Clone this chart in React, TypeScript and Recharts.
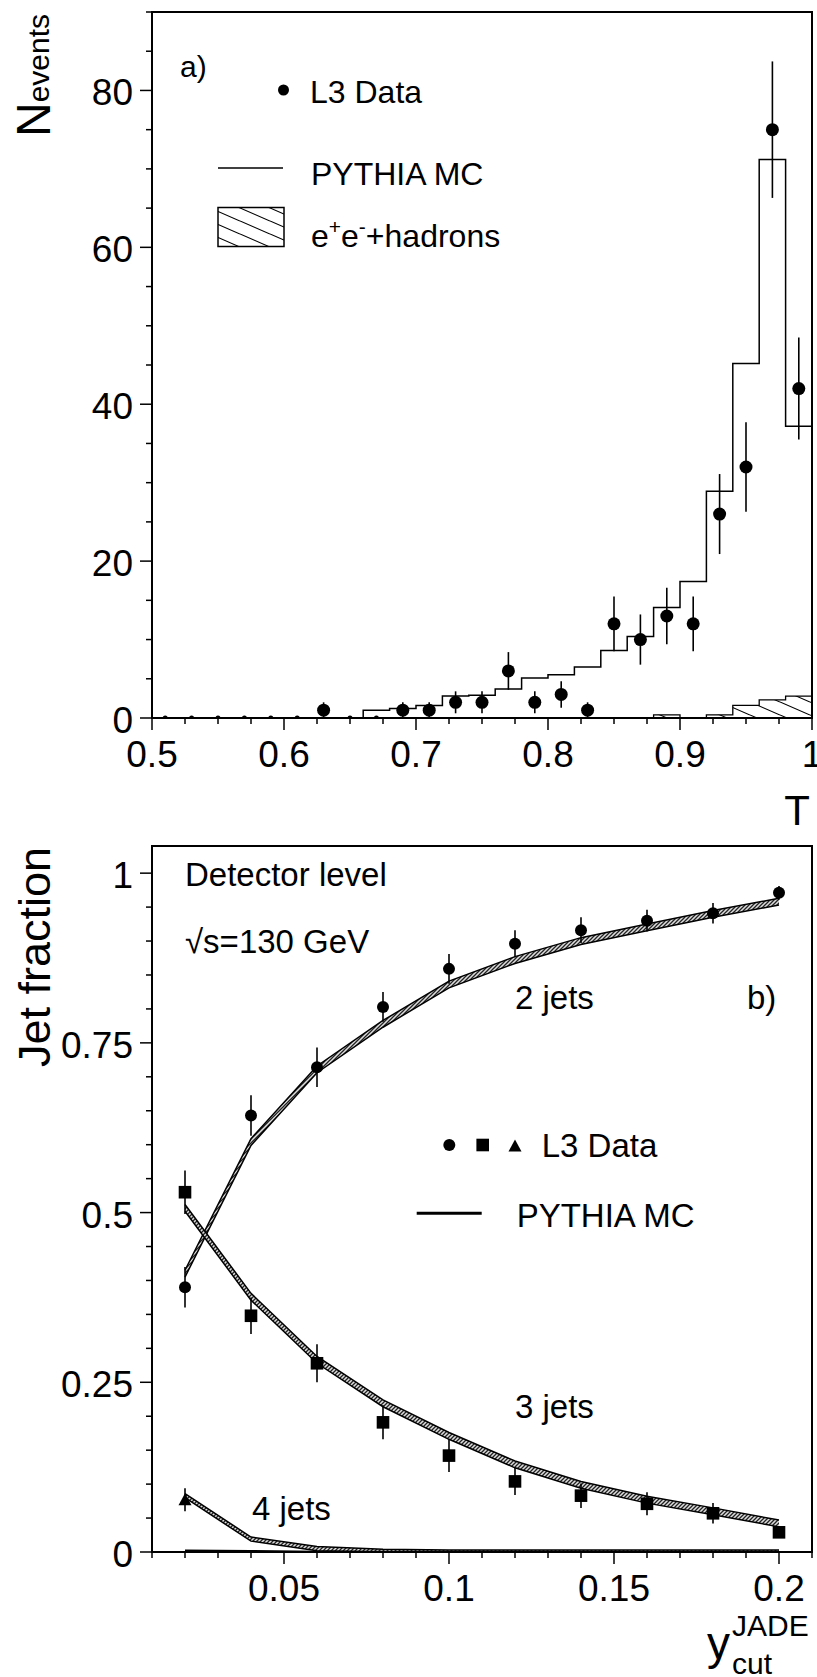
import React from "react";
import {
  ComposedChart,
  Line,
  Area,
  Scatter,
  XAxis,
  YAxis,
  ErrorBar,
  ReferenceArea,
} from "recharts";

const FONT = "'Liberation Sans', Arial, Helvetica, sans-serif";

// ---- panel a): thrust distribution ----
const tEdges = [
  0.5, 0.52, 0.54, 0.56, 0.58, 0.6, 0.62, 0.64, 0.66, 0.68, 0.7, 0.72, 0.74,
  0.76, 0.78, 0.8, 0.82, 0.84, 0.86, 0.88, 0.9, 0.92, 0.94, 0.96, 0.98, 1.0,
];
const pythiaT = [
  0, 0, 0, 0, 0, 0, 0, 0, 1.0, 1.2, 1.6, 2.8, 2.9, 3.7, 5.1, 5.5, 6.5, 8.6,
  10.4, 14.1, 17.4, 28.9, 45.2, 71.2, 37.2,
];
const eeHadronsT = [
  0, 0, 0, 0, 0, 0, 0, 0, 0, 0, 0, 0, 0, 0, 0, 0, 0, 0, 0, 0.4, 0, 0.4, 1.6,
  2.3, 2.8,
];
const tCentres = [
  0.51, 0.53, 0.55, 0.57, 0.59, 0.61, 0.63, 0.65, 0.67, 0.69, 0.71, 0.73, 0.75,
  0.77, 0.79, 0.81, 0.83, 0.85, 0.87, 0.89, 0.91, 0.93, 0.95, 0.97, 0.99,
];
const l3T = [
  0, 0, 0, 0, 0, 0, 1, 0, 0, 1, 1, 2, 2, 6, 2, 3, 1, 12, 10, 13, 12, 26, 32, 75,
  42,
];
const l3TErr = [
  0, 0, 0, 0, 0, 0, 1, 0, 0, 1, 1, 1.4, 1.4, 2.4, 1.4, 1.7, 1, 3.5, 3.2, 3.6,
  3.5, 5.1, 5.7, 8.7, 6.5,
];
const tTicks = [
  0.5, 0.525, 0.55, 0.575, 0.6, 0.625, 0.65, 0.675, 0.7, 0.725, 0.75, 0.775,
  0.8, 0.825, 0.85, 0.875, 0.9, 0.925, 0.95, 0.975, 1,
];
const tLabels = [0.5, 0.6, 0.7, 0.8, 0.9, 1];
const nTicks = [0, 5, 10, 15, 20, 25, 30, 35, 40, 45, 50, 55, 60, 65, 70, 75, 80, 85, 90];
const nLabels = [0, 20, 40, 60, 80];

// ---- panel b): jet fractions vs y_cut ----
const ycut = [0.02, 0.04, 0.06, 0.08, 0.1, 0.12, 0.14, 0.16, 0.18, 0.2];
const l3TwoJet = [0.39, 0.643, 0.714, 0.803, 0.859, 0.896, 0.916, 0.93, 0.941, 0.971];
const l3TwoJetErr = [0.03, 0.03, 0.029, 0.022, 0.022, 0.02, 0.019, 0.016, 0.015, 0.01];
const l3ThreeJet = [0.53, 0.348, 0.278, 0.191, 0.142, 0.104, 0.083, 0.071, 0.057, 0.029];
const l3ThreeJetErr = [0.032, 0.027, 0.028, 0.025, 0.024, 0.02, 0.018, 0.017, 0.015, 0.007];
const l3FourJet = [0.077];
const l3FourJetErr = [0.017];
const pythiaTwoJet = [0.41, 0.604, 0.711, 0.778, 0.836, 0.872, 0.9, 0.92, 0.94, 0.958];
const pythiaThreeJet = [0.507, 0.376, 0.283, 0.219, 0.171, 0.129, 0.099, 0.077, 0.06, 0.042];
const pythiaFourJet = [0.083, 0.019, 0.005, 0.001, 0, 0, 0, 0, 0, 0];
const pythiaFiveJet = [0.002, 0.001, 0, 0, 0, 0, 0, 0, 0, 0];
const mcBandHalf = [0.005, 0.005, 0.003];
const ycutTicks = [
  0.01, 0.02, 0.03, 0.04, 0.05, 0.06, 0.07, 0.08, 0.09, 0.1, 0.11, 0.12, 0.13,
  0.14, 0.15, 0.16, 0.17, 0.18, 0.19, 0.2, 0.21,
];
const ycutLabels = [0.05, 0.1, 0.15, 0.2];
const fracTicks = [
  0, 0.05, 0.1, 0.15, 0.2, 0.25, 0.3, 0.35, 0.4, 0.45, 0.5, 0.55, 0.6, 0.65,
  0.7, 0.75, 0.8, 0.85, 0.9, 0.95, 1,
];
const fracLabels = [0, 0.25, 0.5, 0.75, 1];

const histRows = tEdges.map((x, i) => ({
  x,
  mc: pythiaT[Math.min(i, pythiaT.length - 1)],
  bkg: eeHadronsT[Math.min(i, eeHadronsT.length - 1)],
}));
const thrustPoints = tCentres.map((x, i) => ({ x, n: l3T[i], err: l3TErr[i] }));

const band = (v: number, h: number) => [Math.max(0, v - h), v + h];
const jetRows = ycut.map((x, i) => ({
  x,
  b2: band(pythiaTwoJet[i], mcBandHalf[0]),
  b3: band(pythiaThreeJet[i], mcBandHalf[1]),
  b4: band(pythiaFourJet[i], mcBandHalf[2]),
  m5: pythiaFiveJet[i],
}));
const twoJetPts = ycut.map((x, i) => ({ x, v: l3TwoJet[i], err: l3TwoJetErr[i] }));
const threeJetPts = ycut.map((x, i) => ({ x, v: l3ThreeJet[i], err: l3ThreeJetErr[i] }));
const fourJetPts = l3FourJet.map((v, i) => ({ x: ycut[i], v, err: l3FourJetErr[i] }));

const isIn = (arr: number[], v: number) => arr.some((a) => Math.abs(a - v) < 1e-9);

const XTick = (p: any) => {
  const { x, y, payload, labels } = p;
  const major = isIn(labels, payload.value);
  return (
    <g>
      <line x1={x} x2={x} y1={y} y2={y + (major ? 12 : 6)} stroke="#000" strokeWidth={1.5} />
      {major && (
        <text x={x} y={y + 49} textAnchor="middle" fontSize={37} fontFamily={FONT} fill="#000">
          {String(payload.value)}
        </text>
      )}
    </g>
  );
};

const YTick = (p: any) => {
  const { x, y, payload, labels } = p;
  const major = isIn(labels, payload.value);
  return (
    <g>
      <line x1={x - (major ? 12 : 6)} x2={x} y1={y} y2={y} stroke="#000" strokeWidth={1.5} />
      {major && (
        <text x={x - 19} y={y + 15} textAnchor="end" fontSize={37} fontFamily={FONT} fill="#000">
          {String(payload.value)}
        </text>
      )}
    </g>
  );
};

const axisLine = { stroke: "#000", strokeWidth: 2 };

const Dot = (r: number) => (p: any) =>
  <circle cx={p.cx} cy={p.cy} r={p.payload && p.payload.n === 0 ? 2.5 : r} fill="#000" />;
const Square = (p: any) => <rect x={p.cx - 6.3} y={p.cy - 6.3} width={12.6} height={12.6} fill="#000" />;
const Tri = (p: any) => (
  <polygon points={`${p.cx - 6.5},${p.cy + 5.5} ${p.cx + 6.5},${p.cy + 5.5} ${p.cx},${p.cy - 6.5}`} fill="#000" />
);

const ThrustChart = () => (
  <ComposedChart width={817} height={790} margin={{ top: 12, right: 5, bottom: 0, left: 0 }}>
    <XAxis
      type="number"
      dataKey="x"
      domain={[0.5, 1]}
      ticks={tTicks}
      interval={0}
      allowDataOverflow
      height={72}
      tickLine={false}
      tickSize={0}
      tickMargin={0}
      axisLine={axisLine}
      tick={(p: any) => <XTick {...p} labels={tLabels} />}
    />
    <YAxis
      type="number"
      domain={[0, 90]}
      ticks={nTicks}
      interval={0}
      allowDataOverflow
      width={152}
      tickLine={false}
      tickSize={0}
      tickMargin={0}
      axisLine={axisLine}
      tick={(p: any) => <YTick {...p} labels={nLabels} />}
    />
    <Area
      data={histRows}
      dataKey="bkg"
      type="stepAfter"
      fill="url(#hatchWide)"
      fillOpacity={1}
      stroke="#000"
      strokeWidth={1.3}
      isAnimationActive={false}
    />
    <Line
      data={histRows}
      dataKey="mc"
      type="stepAfter"
      stroke="#000"
      strokeWidth={1.5}
      dot={false}
      isAnimationActive={false}
    />
    <Scatter data={thrustPoints} dataKey="n" shape={Dot(6.5)} isAnimationActive={false}>
      <ErrorBar dataKey="err" direction="y" width={0} stroke="#000" strokeWidth={1.6} />
    </Scatter>
    <ReferenceArea x1={0.5} x2={1} y1={0} y2={90} fill="none" stroke="#000" strokeWidth={2} ifOverflow="visible" />
  </ComposedChart>
);

const JetChart = () => (
  <ComposedChart width={817} height={887} margin={{ top: 56, right: 5, bottom: 0, left: 0 }}>
    <XAxis
      type="number"
      dataKey="x"
      domain={[0.01, 0.21]}
      ticks={ycutTicks}
      interval={0}
      allowDataOverflow
      height={125}
      tickLine={false}
      tickSize={0}
      tickMargin={0}
      axisLine={axisLine}
      tick={(p: any) => <XTick {...p} labels={ycutLabels} />}
    />
    <YAxis
      type="number"
      domain={[0, 1.04]}
      ticks={fracTicks}
      interval={0}
      allowDataOverflow
      width={152}
      tickLine={false}
      tickSize={0}
      tickMargin={0}
      axisLine={axisLine}
      tick={(p: any) => <YTick {...p} labels={fracLabels} />}
    />
    {["b2", "b3", "b4"].map((k) => (
      <Area
        key={k}
        data={jetRows}
        dataKey={k}
        type="linear"
        fill="url(#bandHatch)"
        fillOpacity={1}
        stroke="#000"
        strokeWidth={1.5}
        isAnimationActive={false}
      />
    ))}
    <Line data={jetRows} dataKey="m5" type="linear" stroke="#000" strokeWidth={2.5} dot={false} isAnimationActive={false} />
    <Scatter data={twoJetPts} dataKey="v" shape={Dot(6)} isAnimationActive={false}>
      <ErrorBar dataKey="err" direction="y" width={0} stroke="#000" strokeWidth={1.6} />
    </Scatter>
    <Scatter data={threeJetPts} dataKey="v" shape={Square} isAnimationActive={false}>
      <ErrorBar dataKey="err" direction="y" width={0} stroke="#000" strokeWidth={1.6} />
    </Scatter>
    <Scatter data={fourJetPts} dataKey="v" shape={Tri} isAnimationActive={false}>
      <ErrorBar dataKey="err" direction="y" width={0} stroke="#000" strokeWidth={1.6} />
    </Scatter>
    <ReferenceArea x1={0.01} x2={0.21} y1={0} y2={1.04} fill="none" stroke="#000" strokeWidth={2} ifOverflow="visible" />
  </ComposedChart>
);

const Overlay = () => (
  <svg
    width={817}
    height={1677}
    style={{ position: "absolute", left: 0, top: 0, pointerEvents: "none" }}
    fontFamily={FONT}
    fill="#000"
  >
    <defs>
      <pattern id="hatchWide" patternUnits="userSpaceOnUse" width={30} height={13}>
        <rect width={30} height={13} fill="#fff" />
        <path d="M-5,-15.2 L35,2.2 M-5,-2.2 L35,15.2 M-5,10.8 L35,28.2" stroke="#000" strokeWidth={1.1} />
      </pattern>
      <pattern id="bandHatch" patternUnits="userSpaceOnUse" width={4} height={4}>
        <rect width={4} height={4} fill="#ddd" />
        <path d="M-1,1 L1,-1 M0,4 L4,0 M3,5 L5,3" stroke="#222" strokeWidth={1.3} />
      </pattern>
    </defs>

    {/* panel a) labels and legend */}
    <text transform="translate(50,137) rotate(-90)" fontSize={48}>
      N<tspan fontSize={30} dy={-1}>events</tspan>
    </text>
    <text x={810} y={825} fontSize={42} textAnchor="end">T</text>
    <text x={180} y={77} fontSize={30}>a)</text>
    <circle cx={283.5} cy={90} r={5.5} />
    <text x={310} y={103} fontSize={32}>L3 Data</text>
    <line x1={218} x2={283} y1={168} y2={168} stroke="#000" strokeWidth={1.5} />
    <text x={311} y={185} fontSize={32}>PYTHIA MC</text>
    <rect x={218} y={207.5} width={66} height={39} fill="url(#hatchWide)" stroke="#000" strokeWidth={1.5} />
    <text x={311} y={246.5} fontSize={32}>
      e<tspan fontSize={21} dy={-13}>+</tspan>
      <tspan dy={13}>e</tspan>
      <tspan fontSize={21} dy={-13}>-</tspan>
      <tspan dy={13}>+hadrons</tspan>
    </text>

    {/* panel b) labels and legend */}
    <text transform="translate(50,1067) rotate(-90)" fontSize={45}>Jet fraction</text>
    <text x={185} y={886} fontSize={33}>Detector level</text>
    <text x={185} y={953} fontSize={33}>√s=130 GeV</text>
    <text x={515} y={1009} fontSize={33}>2 jets</text>
    <text x={747} y={1009} fontSize={33}>b)</text>
    <circle cx={449.3} cy={1145} r={6} />
    <rect x={476.4} y={1138.7} width={12.6} height={12.6} />
    <polygon points="508.5,1151.5 521.5,1151.5 515,1139.5" />
    <text x={541.7} y={1156.7} fontSize={33}>L3 Data</text>
    <line x1={416.7} x2={481.7} y1={1213.3} y2={1213.3} stroke="#000" strokeWidth={3} />
    <text x={516.7} y={1226.7} fontSize={33}>PYTHIA MC</text>
    <text x={515} y={1418} fontSize={33}>3 jets</text>
    <text x={252} y={1520} fontSize={33}>4 jets</text>
    <text x={707} y={1659} fontSize={46}>y</text>
    <text x={732} y={1636} fontSize={30}>JADE</text>
    <text x={732} y={1674} fontSize={30}>cut</text>
  </svg>
);

export default function App() {
  return (
    <div
      style={{
        position: "absolute",
        left: 0,
        top: 0,
        width: 817,
        height: 1677,
        background: "#fff",
        fontFamily: FONT,
      }}
    >
      <div style={{ position: "absolute", left: 0, top: 0 }}>
        <ThrustChart />
      </div>
      <div style={{ position: "absolute", left: 0, top: 790 }}>
        <JetChart />
      </div>
      <Overlay />
    </div>
  );
}
